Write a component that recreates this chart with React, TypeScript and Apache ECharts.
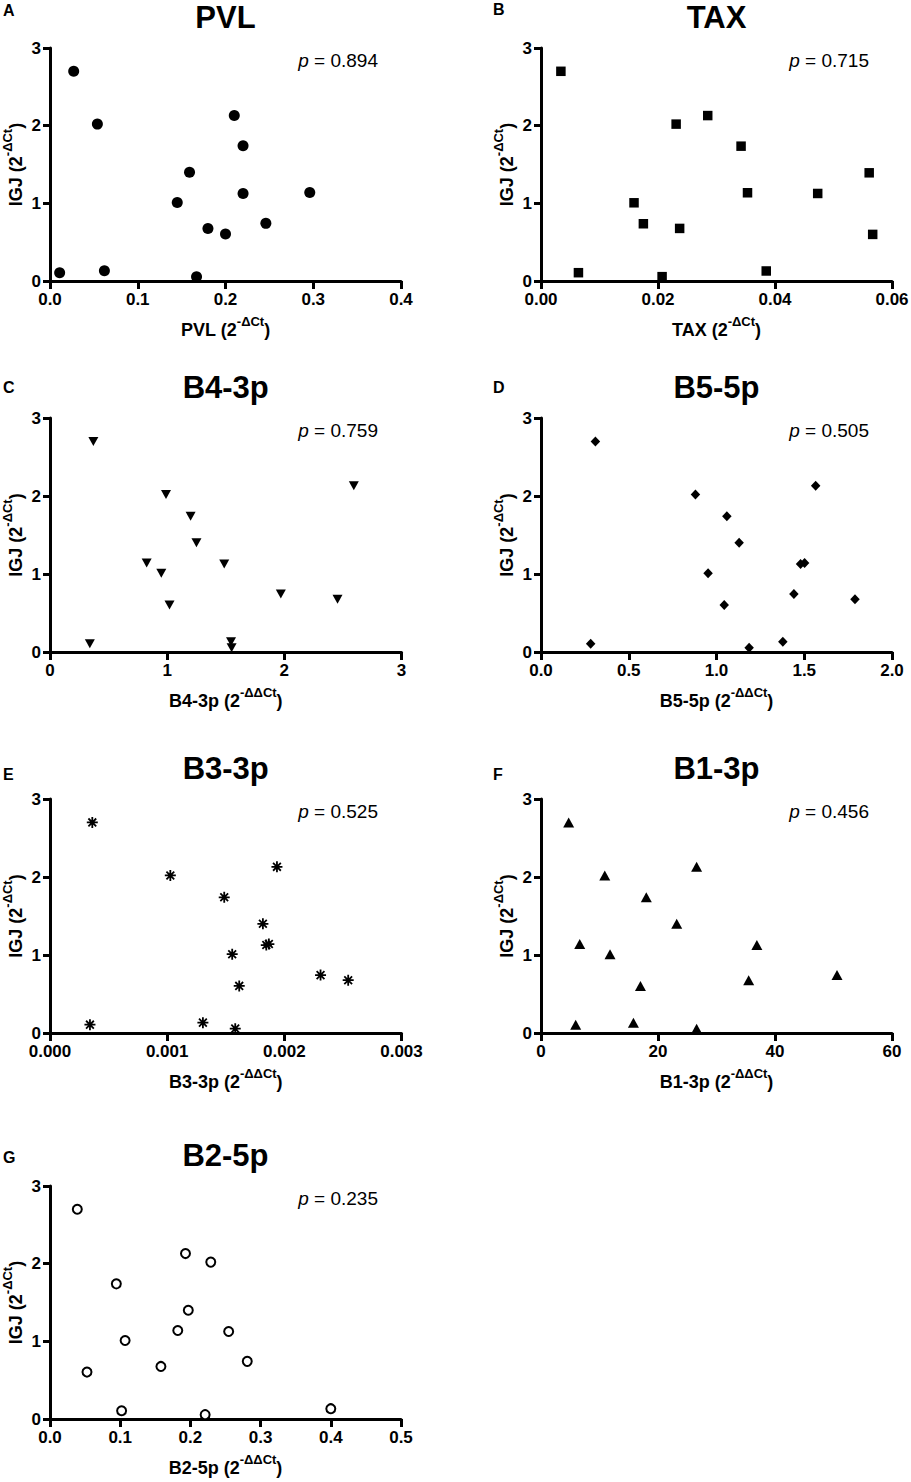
import React, { useEffect, useRef } from "react";
import * as echarts from "echarts";

// ---------- data ----------
const titles = ["PVL", "TAX", "B4-3p", "B5-5p", "B3-3p", "B1-3p", "B2-5p"];
const letters = ["A", "B", "C", "D", "E", "F", "G"];
const pValues = ["0.894", "0.715", "0.759", "0.505", "0.525", "0.456", "0.235"];
const xSup = ["-ΔCt", "-ΔCt", "-ΔΔCt", "-ΔΔCt", "-ΔΔCt", "-ΔΔCt", "-ΔΔCt"];
const xMax = [0.4, 0.06, 3, 2.0, 0.003, 60, 0.5];
const xStep = [0.1, 0.02, 1, 0.5, 0.001, 20, 0.1];
const xDecimals = [1, 2, 0, 1, 3, 0, 1];
const yMax = 3;
const yStep = 1;
const yName = "IGJ";
const ySup = "-ΔCt";

const pvlX = [0.011, 0.027, 0.054, 0.062, 0.145, 0.159, 0.167, 0.18, 0.2, 0.21, 0.22, 0.22, 0.246, 0.296];
const pvlY = [0.107, 2.7, 2.02, 0.133, 1.01, 1.4, 0.056, 0.677, 0.604, 2.13, 1.74, 1.127, 0.742, 1.14];

const taxX = [0.0034, 0.0064, 0.0159, 0.0175, 0.0207, 0.0231, 0.0237, 0.0285, 0.0342, 0.0353, 0.0385, 0.0473, 0.0561, 0.0567];
const taxY = [2.7, 0.107, 1.007, 0.737, 0.056, 2.02, 0.677, 2.13, 1.736, 1.136, 0.129, 1.127, 1.393, 0.6];

const b43X = [0.37, 0.34, 0.99, 1.2, 1.25, 0.825, 0.95, 1.02, 1.487, 1.545, 1.55, 1.97, 2.454, 2.593];
const b43Y = [2.7, 0.107, 2.02, 1.74, 1.4, 1.14, 1.01, 0.604, 1.127, 0.133, 0.056, 0.742, 0.677, 2.13];

const b55X = [0.31, 0.283, 0.88, 1.059, 1.129, 0.952, 1.044, 1.186, 1.378, 1.479, 1.502, 1.441, 1.565, 1.789];
const b55Y = [2.7, 0.107, 2.02, 1.74, 1.4, 1.01, 0.604, 0.056, 0.133, 1.127, 1.14, 0.742, 2.13, 0.677];

const b33X = [0.000361, 0.000341, 0.001027, 0.001487, 0.001817, 0.001555, 0.001615, 0.001846, 0.001868, 0.001937, 0.001305, 0.001581, 0.002309, 0.002545];
const b33Y = [2.7, 0.107, 2.02, 1.74, 1.4, 1.01, 0.604, 1.127, 1.14, 2.13, 0.133, 0.056, 0.742, 0.677];

const b13X = [4.73, 5.93, 6.62, 10.9, 11.8, 15.8, 17.0, 18.0, 23.2, 26.6, 26.6, 35.5, 36.9, 50.6];
const b13Y = [2.7, 0.107, 1.14, 2.02, 1.01, 0.133, 0.604, 1.74, 1.4, 2.13, 0.056, 0.677, 1.127, 0.742];

const b25X = [0.0389, 0.0527, 0.0945, 0.107, 0.102, 0.158, 0.182, 0.193, 0.197, 0.221, 0.229, 0.2545, 0.281, 0.4];
const b25Y = [2.7, 0.604, 1.74, 1.01, 0.107, 0.677, 1.14, 2.13, 1.4, 0.056, 2.02, 1.127, 0.742, 0.133];

const seriesX = [pvlX, taxX, b43X, b55X, b33X, b13X, b25X];
const seriesY = [pvlY, taxY, b43Y, b55Y, b33Y, b13Y, b25Y];

// ---------- layout / styles ----------
const FONT = "'Liberation Sans', Arial, Helvetica, sans-serif";
const grids = [
  { left: 50, top: 48, width: 351, height: 233 },
  { left: 541, top: 48, width: 351, height: 233 },
  { left: 50, top: 418, width: 351.5, height: 234 },
  { left: 541, top: 418, width: 351, height: 234 },
  { left: 50, top: 799, width: 351.5, height: 234 },
  { left: 541, top: 799, width: 351, height: 234 },
  { left: 50, top: 1186, width: 351, height: 233 },
];
const letterPos = [
  [3, 10.5],
  [493, 9.5],
  [3, 387],
  [493, 387.5],
  [3, 774],
  [493, 774],
  [3, 1157.5],
];
const ASTERISK = "path://M5,0L5,10M0,5L10,5M1.46,1.46L8.54,8.54M1.46,8.54L8.54,1.46";
const symbols: any[] = [
  { symbol: "circle", symbolSize: 11, symbolRotate: 0, itemStyle: { color: "#000", opacity: 1 } },
  { symbol: "rect", symbolSize: 9.5, symbolRotate: 0, itemStyle: { color: "#000", opacity: 1 } },
  { symbol: "triangle", symbolSize: [10, 9], symbolRotate: 180, itemStyle: { color: "#000", opacity: 1 } },
  { symbol: "diamond", symbolSize: [9.5, 10], symbolRotate: 0, itemStyle: { color: "#000", opacity: 1 } },
  { symbol: ASTERISK, symbolSize: 11, symbolRotate: 0, itemStyle: { color: "#000", borderColor: "#000", borderWidth: 1.8, opacity: 1 } },
  { symbol: "triangle", symbolSize: [11, 10], symbolRotate: 0, itemStyle: { color: "#000", opacity: 1 } },
  { symbol: "circle", symbolSize: 9, symbolRotate: 0, itemStyle: { color: "#fff", borderColor: "#000", borderWidth: 2, opacity: 1 } },
];

const nameRich = {
  a: { fontSize: 18, fontWeight: "bold", fontFamily: FONT, color: "#000", lineHeight: 24, verticalAlign: "bottom" },
  s: { fontSize: 13, fontWeight: "bold", fontFamily: FONT, color: "#000", lineHeight: 13, verticalAlign: "top" },
};
const richName = (main: string, sup: string) => `{a|${main} (2}{s|${sup}}{a|)}`;

function buildOption() {
  const axisLine = { show: true, onZero: false, lineStyle: { color: "#000", width: 3 } };
  const labelBase = { color: "#000", fontSize: 17, fontWeight: "bold", fontFamily: FONT };
  const xAxis = titles.map((t, i) => ({
    type: "value",
    gridIndex: i,
    min: 0,
    max: xMax[i],
    interval: xStep[i],
    axisLine,
    axisTick: { show: true, length: 8, lineStyle: { color: "#000", width: 3 } },
    axisLabel: { ...labelBase, margin: 10, formatter: (v: number) => v.toFixed(xDecimals[i]) },
    splitLine: { show: false },
    name: richName(t, xSup[i]),
    nameLocation: "middle",
    nameGap: 34,
    nameTextStyle: { rich: nameRich },
  }));
  const yAxis = titles.map((t, i) => ({
    type: "value",
    gridIndex: i,
    min: 0,
    max: yMax,
    interval: yStep,
    axisLine,
    axisTick: { show: true, length: 7, lineStyle: { color: "#000", width: 3 } },
    axisLabel: { ...labelBase, margin: 9, formatter: (v: number) => v.toFixed(0) },
    splitLine: { show: false },
    name: richName(yName, ySup),
    nameLocation: "middle",
    nameGap: 25.5,
    nameTextStyle: { rich: nameRich },
  }));
  const series = titles.map((t, i) => ({
    type: "scatter",
    name: t,
    xAxisIndex: i,
    yAxisIndex: i,
    silent: true,
    ...symbols[i],
    data: seriesX[i].map((x, j) => [x, seriesY[i][j]]),
  }));
  const graphic: any[] = [];
  titles.forEach((t, i) => {
    const g = grids[i];
    graphic.push({
      type: "text",
      style: {
        text: t,
        x: g.left + g.width / 2,
        y: g.top - 31,
        align: "center",
        verticalAlign: "middle",
        fill: "#000",
        font: `bold 31px ${FONT}`,
      },
    });
    graphic.push({
      type: "text",
      style: {
        text: letters[i],
        x: letterPos[i][0],
        y: letterPos[i][1],
        align: "left",
        verticalAlign: "middle",
        fill: "#000",
        font: `bold 16px ${FONT}`,
      },
    });
    graphic.push({
      type: "text",
      style: {
        text: `{i|p}{n| = ${pValues[i]}}`,
        x: g.left + 328,
        y: g.top + 12,
        align: "right",
        verticalAlign: "middle",
        fill: "#000",
        font: `19px ${FONT}`,
        rich: {
          i: { fontStyle: "italic", fontSize: 19, fontFamily: FONT, fill: "#000", color: "#000" },
          n: { fontSize: 19, fontFamily: FONT, fill: "#000", color: "#000" },
        },
      },
    });
  });
  return {
    animation: false,
    backgroundColor: "#fff",
    grid: grids.map((g) => ({ ...g, containLabel: false, outerBoundsMode: "none" })),
    xAxis,
    yAxis,
    series,
    graphic,
  };
}

export default function App() {
  const ref = useRef<HTMLDivElement>(null);
  useEffect(() => {
    if (!ref.current) return;
    const chart = echarts.init(ref.current, null, { renderer: "svg" });
    chart.setOption(buildOption() as any);
    return () => chart.dispose();
  }, []);
  return (
    <div
      ref={ref}
      style={{ position: "absolute", left: 0, top: 0, width: 911, height: 1482, background: "#fff" }}
    />
  );
}
